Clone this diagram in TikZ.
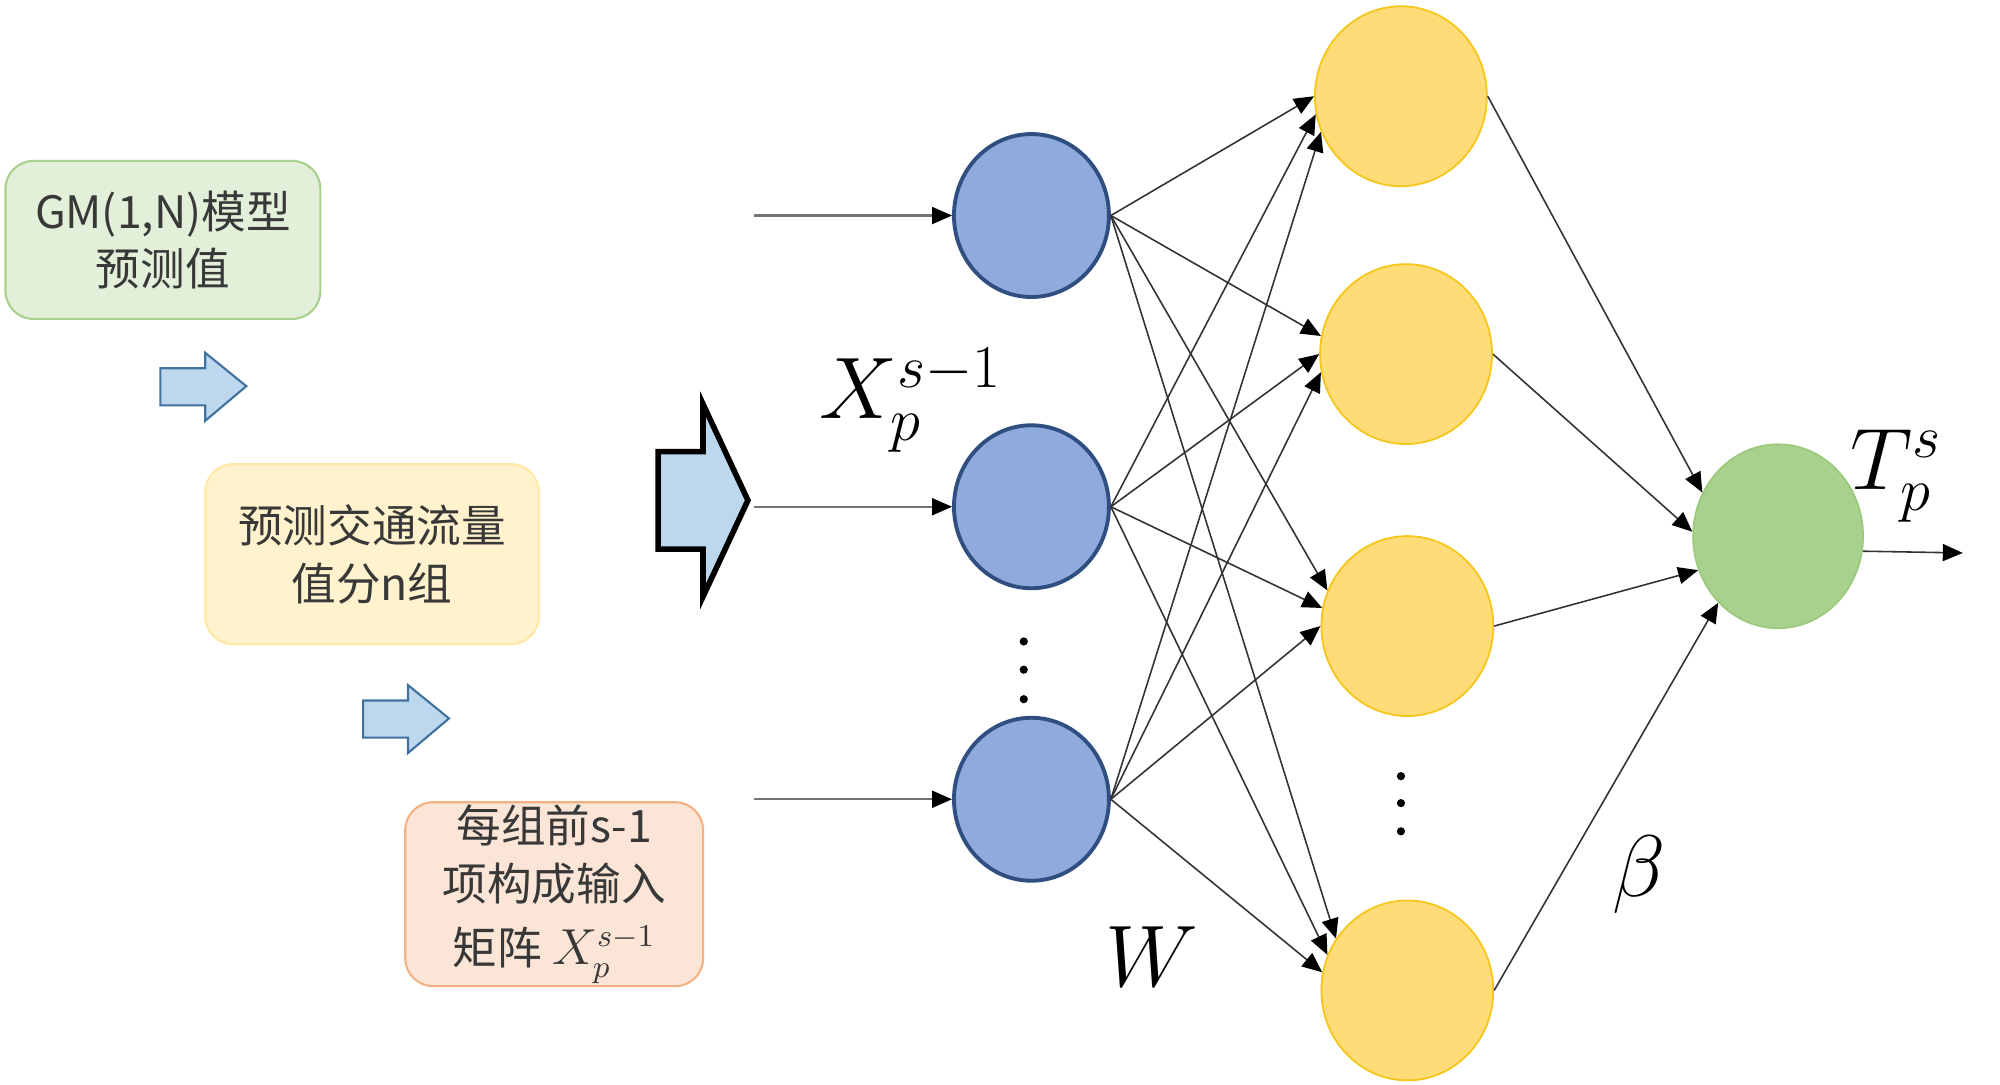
\documentclass[tikz,border=0pt]{standalone}
\usepackage{fontspec}
\newfontfamily\cjk{Noto Sans CJK SC}
\usepackage{tikz}
\usetikzlibrary{arrows.meta, shapes.geometric, positioning}

\definecolor{gmfill}{HTML}{E2F0D9}
\definecolor{gmline}{HTML}{A9D18E}
\definecolor{grpfill}{HTML}{FFF2CC}
\definecolor{grpline}{HTML}{FFE9A8}
\definecolor{matfill}{HTML}{FBE5D6}
\definecolor{matline}{HTML}{F4B183}
\definecolor{infill}{HTML}{8FAADC}
\definecolor{inline}{HTML}{2F4F80}
\definecolor{hidfill}{HTML}{FFDC78}
\definecolor{hidline}{HTML}{F5C518}
\definecolor{outfill}{HTML}{A9D18E}
\definecolor{outline}{HTML}{9CC97E}
\definecolor{arrfill}{HTML}{BDD7EE}
\definecolor{arrline}{HTML}{41719C}
\definecolor{txt}{HTML}{383838}

\newcommand{\boxfont}{\cjk\fontsize{12.7}{16.4}\selectfont\color{txt}}

\begin{document}
\begin{tikzpicture}[x=0.012828cm, y=-0.012828cm,
  box/.style={rounded corners=0.28cm, line width=0.6pt, align=center, font=\boxfont, inner sep=0pt},
  innode/.style={ellipse, draw=inline, fill=infill, line width=1.1pt, minimum width=1.55cm, minimum height=1.63cm},
  hidnode/.style={ellipse, draw=hidline, fill=hidfill, line width=0.5pt, minimum width=1.72cm, minimum height=1.8cm},
  outnode/.style={ellipse, draw=outline, fill=outfill, line width=0.5pt, minimum width=1.7cm, minimum height=1.84cm},
  link/.style={-{Triangle[length=0.2cm, width=0.17cm, color=black]}, line width=0.45pt, draw=black!80},
  inlink/.style={-{Triangle[length=0.2cm, width=0.17cm, color=black]}, line width=0.6pt, draw=black!55},
  smallarrow/.style={draw=arrline, fill=arrfill, line width=0.6pt},
  bigarrow/.style={draw=black, fill=arrfill, line width=1.6pt, line join=miter}
]
\useasboundingbox (0,0) rectangle (1559,845);

% Left boxes
\node[box, draw=gmline, fill=gmfill, minimum width=3.15cm, minimum height=1.58cm] (gm) at (127,187) {GM(1,N)模型\\预测值};
\node[box, draw=grpline, fill=grpfill, minimum width=3.34cm, minimum height=1.8cm] (grp) at (290,432) {预测交通流量\\值分n组};
\node[box, draw=matline, fill=matfill, minimum width=2.98cm, minimum height=1.84cm] (mat) at (432,697) {每组前s-1\\项构成输入\\[2pt]矩阵 {\fontsize{13.5}{14}\selectfont$X_p^{s-1}$}};

% Block arrows
\foreach \dx/\dy in {0/0,158/259} {
  \draw[smallarrow, shift={(\dx,\dy)}] (125,287) -- (160,287) -- (160,275) -- (192,301) -- (160,328) -- (160,316) -- (125,316) -- cycle;
}
\draw[bigarrow] (513,352) -- (548,352) -- (548,315) -- (583,390) -- (548,465) -- (548,428) -- (513,428) -- cycle;

% Input layer
\foreach \i/\y in {1/168,2/395,3/623} {
  \node[innode] (in\i) at (804,\y) {};
  \coordinate (src\i) at (588,\y);
  \draw[inlink] (src\i) -- (in\i);
}
\foreach \y in {500,522,545} \fill (798,\y) circle (3.2);

% Hidden layer
\foreach \j/\x/\y in {1/1092/75,2/1096/276,3/1097/488,4/1097/772}
  \node[hidnode] (h\j) at (\x,\y) {};
\foreach \y in {605,626,648} \fill (1092,\y) circle (3.2);

% Output layer
\node[outnode] (out) at (1386,418) {};
\coordinate (tend) at (1530,431);

% Connections
\foreach \k in {1,2,3}
  \foreach \j in {1,...,4} {
    \pgfmathtruncatemacro\ang{180+12*(\k-\j)}
    \draw[link] (in\k.east) -- (h\j.\ang);
  }
\foreach \j/\a in {1/150,2/177,3/203,4/228}
  \draw[link] (h\j.east) -- (out.\a);
\draw[link] (out.-10) -- (tend);

% Labels
\node[font=\fontsize{23}{26}\selectfont, inner sep=1pt] (xlab) at (710,312) {$X_p^{s-1}$};
\node[font=\fontsize{24}{27}\selectfont, inner sep=1pt] (tlab) at (1478,371) {$T_p^{s}$};
\node[font=\fontsize{36}{40}\selectfont] (wlab) at (898,746) {$W$};
\node[font=\fontsize{31}{34}\selectfont] (blab) at (1278,682) {$\beta$};
\end{tikzpicture}
\end{document}
